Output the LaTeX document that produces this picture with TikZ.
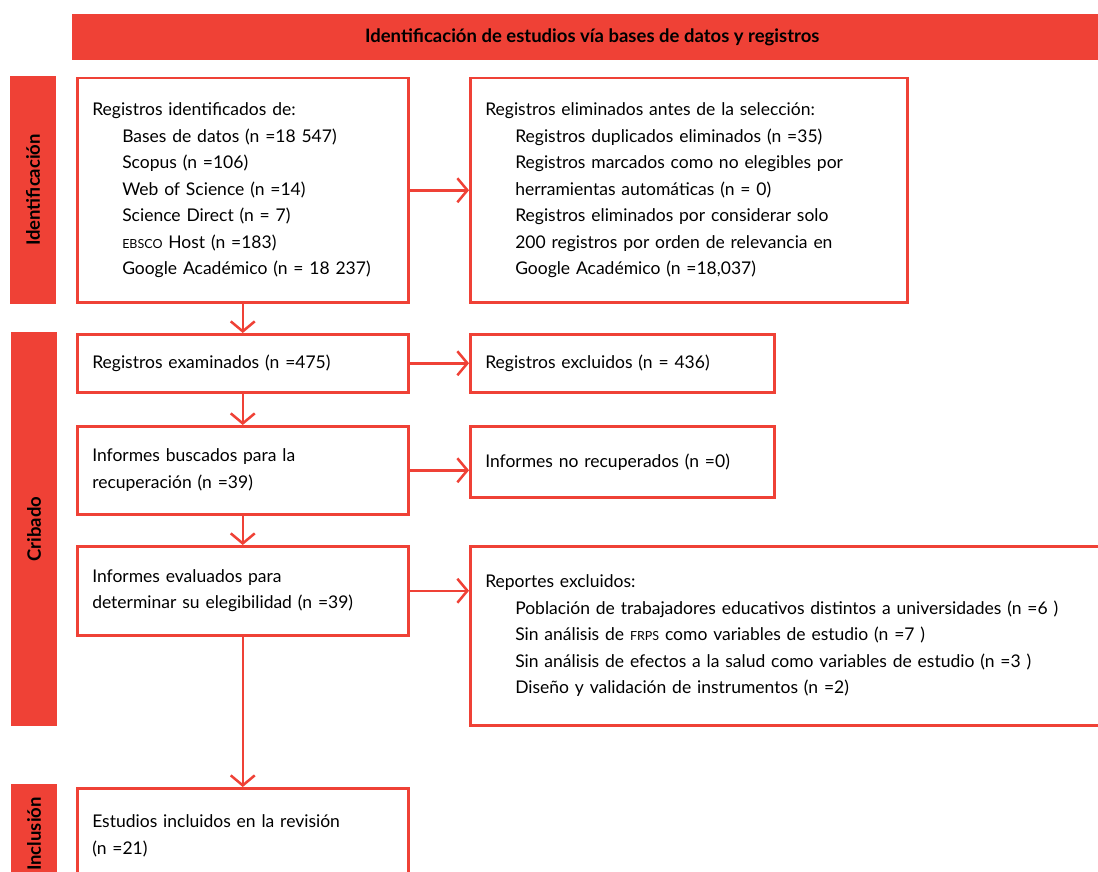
\documentclass[tikz,border=0pt]{standalone}
\usepackage{fontspec}
\setmainfont{Lato}
\usetikzlibrary{arrows.meta,positioning}
\definecolor{prismared}{HTML}{EF4136}
\newcommand{\pcaps}[1]{{\fontsize{12.5}{12.5}\selectfont #1}}
\newcommand{\sangria}{\hspace*{30pt}}

\begin{document}
\begin{tikzpicture}[x=1pt,y=-1pt,
  caja/.style={draw=prismared, line width=2.5pt, anchor=north west, align=left,
    inner xsep=15pt, inner ysep=0pt, font=\fontsize{17.5}{26.5}\selectfont},
  fase/.style={fill=prismared, text=black, inner sep=0pt,
    font=\bfseries\fontsize{18.5}{18.5}\selectfont},
  flecha/.style={prismared, line width=2.5pt,
    -{Straight Barb[length=10pt,width=24pt]}}]
  \useasboundingbox (0,0) rectangle (1098,872);
  \clip (0,0) rectangle (1098,872);

  % encabezado y fases
  \node[fase, minimum width=1040pt, minimum height=46pt, anchor=north west] (titulo) at (72,14)
    {Identificación de estudios vía bases de datos y registros};
  \node[fase, minimum width=227pt, minimum height=46pt, rotate=90] (fident) at (33,190) {Identificación};
  \node[fase, minimum width=394pt, minimum height=46pt, rotate=90] (fcrib) at (34,529) {Cribado};
  \node[fase, minimum width=100pt, minimum height=46pt, rotate=90] (fincl) at (34,834) {Inclusión};

  % cajas
  \node[caja, text width=301pt, minimum height=224pt] (ident) at (76,77)
    {Registros identificados de:\\
     \sangria Bases de datos (n =18 547)\\
     \sangria Scopus (n =106)\\
     \sangria Web of Science (n =14)\\
     \sangria Science Direct (n = 7)\\
     \sangria \pcaps{EBSCO} Host (n =183)\\
     \sangria Google Académico (n = 18 237)};
  \node[caja, text width=407pt, minimum height=224pt] (elim) at (469,77)
    {Registros eliminados antes de la selección:\\
     \sangria Registros duplicados eliminados (n =35)\\
     \sangria Registros marcados como no elegibles por\\
     \sangria herramientas automáticas (n = 0)\\
     \sangria Registros eliminados por considerar solo\\
     \sangria 200 registros por orden de relevancia en\\
     \sangria Google Académico (n =18,037)};
  \node[caja, text width=301pt, minimum height=58pt] (exam) at (76,333)
    {Registros examinados (n =475)};
  \node[caja, text width=274pt, minimum height=58pt] (excl) at (469,333)
    {Registros excluidos (n = 436)};
  \node[caja, text width=301pt, minimum height=88pt] (busc) at (76,425)
    {Informes buscados para la\\recuperación (n =39)};
  \node[caja, text width=274pt, minimum height=71pt] (norec) at (469,425)
    {Informes no recuperados (n =0)};
  \node[caja, text width=301pt, minimum height=89pt] (eval) at (76,545)
    {Informes evaluados para\\determinar su elegibilidad (n =39)};
  \node[caja, text width=620pt, minimum height=179pt] (repex) at (469,545)
    {Reportes excluidos:\\
     \sangria Población de trabajadores educativos distintos a universidades (n =6 )\\
     \sangria Sin análisis de \pcaps{FRPS} como variables de estudio (n =7 )\\
     \sangria Sin análisis de efectos a la salud como variables de estudio (n =3 )\\
     \sangria Diseño y validación de instrumentos (n =2)};
  \node[caja, text width=301pt, minimum height=95pt] (incl) at (76,787)
    {Estudios incluidos en la revisión\\(n =21)};

  % flechas
  \draw[flecha] (ident) -- (elim);
  \draw[flecha] (ident) -- (exam);
  \draw[flecha] (exam) -- (excl);
  \draw[flecha] (exam) -- (busc);
  \draw[flecha] (busc) -- (busc -| norec.west);
  \draw[flecha] (busc) -- (eval);
  \draw[flecha] (eval) -- (eval -| repex.west);
  \draw[flecha] (eval) -- (incl);
\end{tikzpicture}
\end{document}
